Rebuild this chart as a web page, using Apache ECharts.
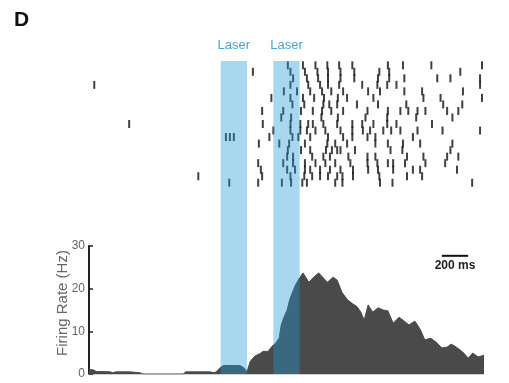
<!DOCTYPE html>
<html>
<head>
<meta charset="utf-8">
<script src="https://cdn.jsdelivr.net/npm/echarts@6/dist/echarts.min.js"></script>
<style>
  html, body { margin: 0; padding: 0; background: #fff; }
  #chart { width: 509px; height: 383px; }
</style>
</head>
<body>
<div id="chart"></div>
<script>
// Trial time axis in ms (trial start = 0)
const timeRange = [0, 3000];
// Laser stimulation windows (ms)
const laserWindows = [[1000, 1200], [1400, 1600]];
const laserLabel = 'Laser';

// Spike times (ms) for each trial, top row first
const trials = [
  [1510, 1625, 1720, 1810, 1900, 2000, 2270, 2385, 2600, 2985],
  [1245, 1530, 1640, 1735, 1815, 1910, 2015, 2205, 2280, 2820],
  [1550, 1655, 1740, 1815, 1910, 2015, 2195, 2280, 2395, 2645, 2745, 2970],
  [40, 1530, 1665, 1755, 1815, 1900, 2075, 2190, 2265, 2335, 2970],
  [1480, 1580, 1680, 1770, 1840, 1930, 2120, 2210, 2395, 2530, 2840],
  [1385, 1530, 1625, 1710, 1785, 1890, 1960, 2160, 2540, 2670, 2985],
  [1545, 1635, 1780, 1825, 1885, 2035, 2195, 2410, 2690, 2835],
  [1315, 1475, 1610, 1700, 1770, 1840, 1930, 2115, 2270, 2365, 2425, 2495, 2555, 2720, 2805],
  [1460, 1535, 1765, 1890, 2100, 2265, 2485, 2760],
  [305, 1320, 1530, 1605, 1665, 1700, 1780, 1885, 2000, 2075, 2160, 2265, 2335, 2605],
  [1400, 1530, 1605, 1655, 1720, 1795, 1910, 2000, 2080, 2135, 2235, 2295, 2365, 2495, 2685, 2970],
  [1040, 1070, 1100, 1370, 1545, 1590, 1680, 1815, 1930, 2000, 2115, 2175, 2460],
  [1290, 1445, 1520, 1640, 1810, 1870, 1960, 2175, 2270, 2385, 2515, 2760],
  [1510, 1610, 1680, 1800, 1845, 1885, 1910, 2020, 2290, 2380, 2745],
  [1505, 1550, 1695, 1780, 1830, 1970, 2115, 2175, 2415, 2540, 2720, 2805],
  [1285, 1475, 1550, 1640, 1720, 1795, 1870, 1985, 2115, 2190, 2270, 2310, 2400, 2555, 2705],
  [1305, 1505, 1565, 1640, 1680, 1755, 1830, 1910, 2005, 2120, 2195, 2310, 2460, 2515, 2795],
  [830, 1315, 1530, 1635, 1695, 1755, 1815, 1885, 1925, 2005, 2205, 2415, 2530],
  [1065, 1285, 1465, 1535, 1620, 1655, 1870, 1925, 2210, 2305, 2910]
];

// Peri-stimulus firing rate: time (ms) and rate (Hz)
const rateTimes = [0, 30, 55, 160, 180, 205, 310, 385, 410, 715, 735, 920, 950, 970,
  1000, 1025, 1145, 1175, 1200, 1225, 1260, 1300, 1320, 1360, 1390, 1420, 1445, 1460,
  1480, 1505, 1525, 1550, 1570, 1605, 1625, 1670, 1710, 1745, 1810, 1855, 1885, 1920,
  1960, 2000, 2035, 2065, 2090, 2120, 2155, 2195, 2235, 2270, 2310, 2355, 2390, 2430,
  2475, 2515, 2550, 2595, 2635, 2680, 2720, 2750, 2780, 2820, 2850, 2880, 2915, 2955, 3000];
const rateValues = [1.0, 1.0, 0.6, 0.5, 0.3, 0.5, 0.5, 0.3, 0, 0, 0.5, 0.5, 0.3, 0.6,
  1.6, 2.0, 2.0, 1.5, 0.5, 3.0, 4.2, 4.8, 5.3, 5.3, 6.5, 7.3, 8.5, 11.5,
  13.3, 15.0, 17.5, 19.5, 21.0, 22.8, 23.7, 21.5, 22.8, 23.7, 21.5, 22.7, 22.0, 19.2,
  17.5, 16.5, 15.8, 14.5, 12.6, 16.2, 14.5, 15.5, 15.0, 14.8, 11.9, 13.3, 12.5, 11.5,
  12.4, 10.5, 8.0, 8.4, 7.5, 6.1, 6.3, 7.0, 6.5, 5.6, 4.8, 3.7, 4.9, 4.0, 4.4];

// Firing-rate axis ticks
const rateTicks = [0, 10, 20, 30];
// Scale bar: 200 ms
const scaleBar = { start: 2680, end: 2880, rate: 27.7, label: '200 ms' };

const spikeData = [];
trials.forEach((spikes, i) => spikes.forEach(t => spikeData.push([t, i + 1])));

const chart = echarts.init(document.getElementById('chart'), null, { renderer: 'canvas' });

const hiddenAxis = { show: false, type: 'value' };

chart.setOption({
  animation: false,
  backgroundColor: '#fff',
  title: {
    text: 'D', left: 9, top: 5,
    textStyle: { fontFamily: 'Liberation Sans', fontWeight: 'bold', fontSize: 21, color: '#111' }
  },
  grid: [
    { left: 89, right: 25, top: 62, height: 124 },   // raster
    { left: 89, right: 25, top: 246, height: 128 },  // firing rate
    { left: 89, right: 25, top: 61, height: 313 }    // laser overlay
  ],
  xAxis: [
    Object.assign({}, hiddenAxis, { gridIndex: 0, min: timeRange[0], max: timeRange[1] }),
    {
      gridIndex: 1, type: 'value', min: timeRange[0], max: timeRange[1],
      axisLine: { show: true, onZero: false, lineStyle: { color: '#d0d0d0', width: 1 } },
      axisTick: { show: false }, axisLabel: { show: false }, splitLine: { show: false }
    },
    Object.assign({}, hiddenAxis, { gridIndex: 2, min: timeRange[0], max: timeRange[1] })
  ],
  yAxis: [
    Object.assign({}, hiddenAxis, { gridIndex: 0, min: 0.5, max: trials.length + 0.5, inverse: true }),
    {
      gridIndex: 1, type: 'value', min: rateTicks[0], max: rateTicks[rateTicks.length - 1],
      interval: 10,
      name: 'Firing Rate (Hz)', nameLocation: 'middle', nameGap: 19, nameMoveOverlap: false,
      nameTextStyle: { fontFamily: 'Liberation Sans', fontSize: 15, color: '#666', padding: [0, 0, 0, 14] },
      axisLine: { show: true, lineStyle: { color: '#222', width: 2 } },
      axisTick: { show: true, inside: true, length: 4, lineStyle: { color: '#222', width: 1.5 } },
      axisLabel: { fontFamily: 'Liberation Sans', fontSize: 12, color: '#666', margin: 4 },
      splitLine: { show: false }
    },
    Object.assign({}, hiddenAxis, { gridIndex: 2, min: 0, max: 1 })
  ],
  series: [
    {
      name: 'spikes', type: 'scatter', xAxisIndex: 0, yAxisIndex: 0,
      symbol: 'rect', symbolSize: [2, 8],
      itemStyle: { color: '#111' },
      data: spikeData, z: 2
    },
    {
      name: 'rate', type: 'line', xAxisIndex: 1, yAxisIndex: 1,
      data: rateTimes.map((t, i) => [t, rateValues[i]]),
      symbol: 'none', smooth: false,
      lineStyle: { color: '#4a4a4a', width: 1 },
      areaStyle: { color: '#4a4a4a', opacity: 1 },
      z: 2
    },
    {
      name: 'scalebar', type: 'line', xAxisIndex: 1, yAxisIndex: 1,
      data: [[scaleBar.start, scaleBar.rate], [scaleBar.end, scaleBar.rate]],
      symbol: 'none', lineStyle: { color: '#111', width: 2 },
      markPoint: {
        symbol: 'rect', symbolSize: 0,
        data: [{ coord: [(scaleBar.start + scaleBar.end) / 2, scaleBar.rate] }],
        label: {
          show: true, formatter: scaleBar.label, position: 'bottom', distance: 4,
          fontFamily: 'Liberation Sans', fontWeight: 'bold', fontSize: 12, color: '#222'
        }
      },
      z: 3
    },
    {
      // translucent laser windows painted above raster and histogram
      name: 'laser', type: 'line', xAxisIndex: 2, yAxisIndex: 2,
      data: [], z: 10,
      markArea: {
        silent: true, z: 20,
        itemStyle: { color: 'rgba(32,155,216,0.39)', opacity: 1 },
        label: {
          show: true, position: 'top', distance: 9,
          fontFamily: 'Liberation Sans', fontSize: 13, color: '#45a5dd'
        },
        data: laserWindows.map(w => [
          { xAxis: w[0], yAxis: 0, name: laserLabel },
          { xAxis: w[1], yAxis: 1 }
        ])
      }
    }
  ]
});
</script>
</body>
</html>
